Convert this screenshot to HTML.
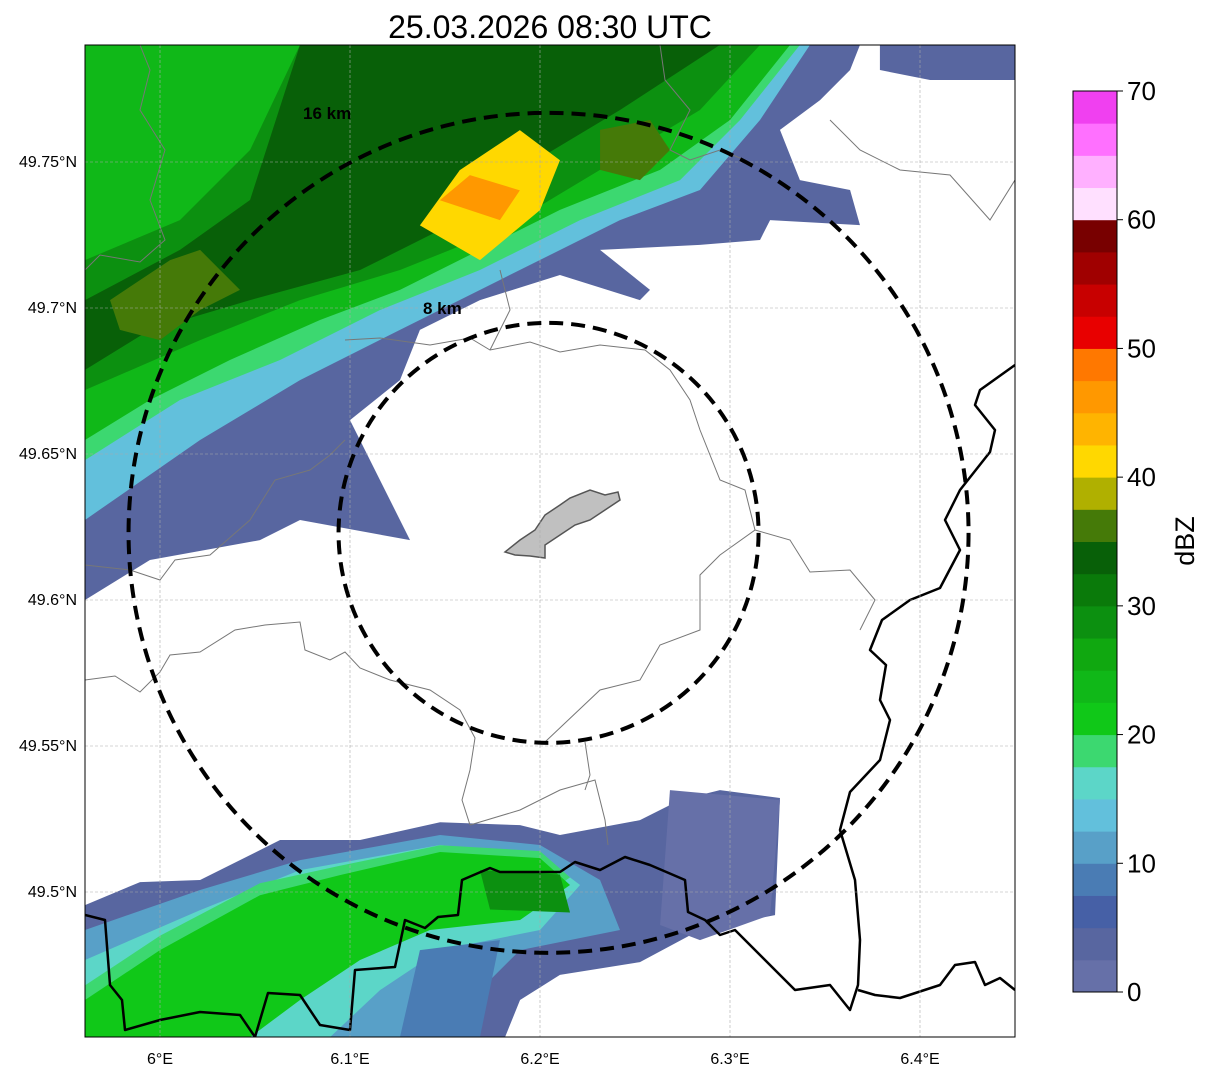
<!DOCTYPE html>
<html><head><meta charset="utf-8"><style>
body{margin:0;background:#fff;font-family:"Liberation Sans",sans-serif}
svg{display:block}
</style></head><body>
<svg id="s" width="1207" height="1073" xmlns="http://www.w3.org/2000/svg">
<defs><clipPath id="mapclip"><rect x="85" y="45" width="930" height="992"/></clipPath></defs>
<text x="550" y="38" font-size="32" text-anchor="middle">25.03.2026 08:30 UTC</text>
<g id="map" clip-path="url(#mapclip)"></g>
<g id="overlay" clip-path="url(#mapclip)">
<g fill="none" stroke="#777" stroke-width="1">
<path d="M85,680 L115,676 L140,692 L160,672 L170,655 L200,652 L235,630 L265,625 L300,622 L305,650 L330,660 L345,652 L360,668 L390,680 L430,690 L460,710 L475,738 L470,770 L462,800 L470,825"/>
<path d="M470,825 L520,810 L560,790 L595,780 L605,820 L608,845"/>
<path d="M585,742 L590,775 L585,790"/>
<path d="M545,742 L600,690 L640,680 L660,645 L700,630 L700,575 L720,555 L755,530 L745,490 L720,480 L700,430 L690,400 L670,370 L645,350 L600,345 L560,352 L530,342 L490,350 L470,338 L430,345 L380,338 L345,340"/>
<path d="M755,530 L790,540 L810,572 L850,570 L875,600 L860,630"/>
<path d="M85,565 L130,570 L160,580 L175,560 L210,555 L250,520 L275,480 L310,470 L330,455 L345,440"/>
<path d="M660,45 L665,80 L690,110 L670,150 L690,160 L720,150 L745,160"/>
<path d="M830,120 L860,150 L900,170 L950,175 L990,220 L1015,180"/>
<path d="M140,45 L150,70 L140,110 L165,150 L150,200 L165,240 L140,262 L100,255 L85,270"/>
<path d="M500,270 L510,310 L490,350"/>
</g>
<g fill="none" stroke="#000" stroke-width="2.5" stroke-linejoin="round">
<path d="M1015,365 L980,390 L975,405 L995,430 L990,452 L960,490 L945,520 L960,550 L940,588 L910,600 L882,620 L870,650 L886,665 L880,700 L890,720 L880,760 L850,792 L840,830 L855,880 L860,940 L858,985 L850,1010 L830,985 L795,990 L765,960 L735,930 L720,935 L705,920 L688,912 L685,880 L650,865 L625,857 L600,870 L575,862 L560,872 L500,872 L490,868 L462,880 L458,915 L438,917 L425,928 L405,920 L395,967 L355,970 L350,1030 L320,1025 L300,995 L268,993 L255,1037"/>
<path d="M858,990 L875,995 L900,998 L940,985 L955,965 L975,962 L985,985 L1000,978 L1015,990"/>
<path d="M85,915 L105,920 L110,985 L122,1000 L125,1030 L160,1020 L200,1012 L240,1015 L255,1037"/>
</g>
<path d="M505,552 L520,540 L535,530 L545,515 L560,505 L570,498 L590,490 L605,495 L618,492 L620,500 L605,510 L590,520 L575,525 L560,535 L545,545 L545,558 L530,556 L515,555 Z" fill="#c0c0c0" stroke="#555" stroke-width="1.5"/>
</g>
<g id="grid"></g>
<g id="rings" fill="none" stroke="#000" stroke-width="4" stroke-dasharray="14,8"></g>
<text x="303" y="119" font-size="17" font-weight="bold">16 km</text>
<text x="423" y="314" font-size="17" font-weight="bold">8 km</text>
<rect x="85" y="45" width="930" height="992" fill="none" stroke="#000" stroke-width="1"/>
<g id="ticks"></g>
<g id="cbar"></g>
<text transform="translate(1194,541) rotate(-90)" font-size="27" text-anchor="middle">dBZ</text>
</svg>
<script>
const lonTicks=[6.0,6.1,6.2,6.3,6.4];
const lonLabels=["6°E","6.1°E","6.2°E","6.3°E","6.4°E"];
const latTicks=[49.75,49.7,49.65,49.6,49.55,49.5];
const latLabels=["49.75°N","49.7°N","49.65°N","49.6°N","49.55°N","49.5°N"];
const cbTicks=[0,10,20,30,40,50,60,70];
const cbColors=["#6670a8","#5866a0","#4660a6","#4a7cb4","#58a0c8","#62c0dc","#5cd6c8","#3cd870","#10c818","#10b818","#10a810","#0c9010","#0a7a0a","#086008","#457a08","#b0b000","#ffd800","#ffb400","#ff9800","#ff7800","#e80000","#c80000","#a00000","#780000","#ffe0ff","#ffb0ff","#ff70ff","#f040f0"];
const ringRadiiKm=[8,16];
const center=[6.2045,49.623];
// precipitation areas (drawn in order): dBZ + polygon lon/lat
const rainDbz=[3,3,12.5,17.5,22.5,27.5,32.5,22.5,35,35,40,45,
  3,1,10,15,7.5,17.5,20,27.5];
const rainLon=[
[5.9605,6.3684,6.3632,6.3474,6.3263,6.3368,6.3632,6.3684,6.3211,6.3158,6.2842,6.2316,6.2579,6.2526,6.2105,6.1684,6.1368,6.1263,6.1,6.1316,6.0737,6.0526,5.9947,5.9605],
[6.3789,6.45,6.45,6.4053,6.3789],
[5.9605,6.3421,6.3158,6.2842,6.2421,6.1789,6.1263,6.0737,6.0211,5.9605],
[5.9605,6.3368,6.3053,6.2737,6.2211,6.1684,6.1158,6.0632,6.0105,5.9605],
[5.9605,6.3316,6.3,6.2632,6.2105,6.1684,6.1263,6.0842,6.0368,5.9947,5.9605],
[5.9605,6.3158,6.2842,6.2316,6.1789,6.1263,6.0737,6.0211,5.9605],
[6.0737,6.2947,6.2421,6.1895,6.1474,6.1053,6.0474,5.9947,5.9605,5.9605,6.0105,6.0474],
[5.9605,6.0737,6.0474,6.0105,5.9605],
[5.9737,6.0053,6.0211,6.0421,6.0211,6.0,5.9789],
[6.2316,6.2579,6.2684,6.2526,6.2316],
[6.1368,6.1578,6.1894,6.2105,6.2,6.1684],
[6.1473,6.1631,6.1894,6.1789],
[5.9605,5.9895,6.0211,6.0632,6.1053,6.1474,6.1895,6.2105,6.2526,6.2737,6.2947,6.3263,6.3237,6.2842,6.2526,6.2105,6.1895,6.1816,5.9605],
[6.2684,6.3263,6.3211,6.2842,6.2632],
[5.9605,6.0211,6.0737,6.1474,6.2,6.2316,6.2421,6.1895,6.1632,6.1474,5.9605],
[5.9605,6.0211,6.0737,6.1474,6.2,6.2211,6.2,6.1474,6.1158,6.0895,5.9605],
[6.1368,6.1789,6.1684,6.1263],
[5.9605,6.0,6.0526,6.0947,6.1474,6.2,6.2158,6.1895,6.1421,6.1053,6.0737,6.0474,5.9605],
[5.9605,6.0,6.0526,6.0947,6.1474,6.2,6.2158,6.1895,6.1421,6.1053,6.0737,6.0474,5.9605],
[6.1684,6.2105,6.2158,6.1737]];
const rainLat=[
[49.7901,49.7901,49.7815,49.7712,49.7610,49.7438,49.7404,49.7284,49.7301,49.7233,49.7216,49.7199,49.7062,49.7027,49.7113,49.7027,49.6925,49.6753,49.6616,49.6205,49.6274,49.6205,49.6137,49.6000],
[49.7901,49.7901,49.7781,49.7781,49.7815],
[49.7901,49.7901,49.7644,49.7404,49.7301,49.7096,49.6925,49.6753,49.6548,49.6274],
[49.7901,49.7901,49.7644,49.7438,49.7301,49.7130,49.6993,49.6822,49.6685,49.6479],
[49.7901,49.7901,49.7644,49.7473,49.7336,49.7199,49.7062,49.6959,49.6822,49.6685,49.6548],
[49.7901,49.7901,49.7678,49.7473,49.7267,49.7130,49.7027,49.6890,49.6719],
[49.7901,49.7901,49.7678,49.7473,49.7267,49.7130,49.7027,49.6925,49.6788,49.7027,49.7199,49.7370],
[49.7901,49.7901,49.7541,49.7301,49.7164],
[49.7027,49.7164,49.7199,49.7062,49.6993,49.6890,49.6925],
[49.7610,49.7644,49.7541,49.7438,49.7473],
[49.7283,49.7472,49.7609,49.7506,49.7335,49.7164],
[49.7369,49.7455,49.7403,49.7301],
[49.4955,49.5034,49.5041,49.5178,49.5178,49.5239,49.5229,49.5195,49.5246,49.5315,49.5349,49.5322,49.4921,49.4870,49.4760,49.4716,49.4630,49.4503,49.4503],
[49.5349,49.5315,49.4921,49.4835,49.4887],
[49.4870,49.5007,49.5109,49.5195,49.5161,49.5041,49.4870,49.4801,49.4630,49.4503,49.4503],
[49.4767,49.4938,49.5075,49.5161,49.5127,49.5024,49.4870,49.4801,49.4664,49.4503,49.4503],
[49.4801,49.4835,49.4503,49.4503],
[49.4680,49.4850,49.5030,49.5090,49.5160,49.5140,49.5050,49.4930,49.4880,49.4790,49.4650,49.4503,49.4503],
[49.4630,49.4801,49.4989,49.5058,49.5137,49.5116,49.5024,49.4904,49.4870,49.4767,49.4630,49.4503,49.4503],
[49.5075,49.5060,49.4930,49.4940]];
const NS="http://www.w3.org/2000/svg";
const xOf=lon=>160+(lon-6)*1900;
const yOf=lat=>162+(49.75-lat)*2920;
const cbY=v=>992-v*(901/70);
function colorOf(d){return cbColors[Math.max(0,Math.min(27,Math.floor(d/2.5)))];}
function mk(tag,parent){const e=document.createElementNS(NS,tag);parent.appendChild(e);return e;}
const map=document.getElementById('map');
rainDbz.forEach((d,i)=>{
 const p=mk('polygon',map);
 p.setAttribute('points',rainLon[i].map((lo,j)=>xOf(lo)+','+yOf(rainLat[i][j])).join(' '));
 p.setAttribute('fill',colorOf(d));
 
 
});
const grid=document.getElementById('grid'),ticks=document.getElementById('ticks');
lonTicks.forEach((lo,i)=>{
 const l=mk('line',grid);l.setAttribute('x1',xOf(lo));l.setAttribute('x2',xOf(lo));l.setAttribute('y1',45);l.setAttribute('y2',1037);
 l.setAttribute('stroke','#aaa');l.setAttribute('stroke-width','0.6');l.setAttribute('stroke-dasharray','3,2');
 
 
 const t=mk('text',ticks);t.setAttribute('x',xOf(lo));t.setAttribute('y',1064);t.setAttribute('font-size','16');t.setAttribute('text-anchor','middle');t.textContent=lonLabels[i];
 
 
});
latTicks.forEach((la,i)=>{
 const l=mk('line',grid);l.setAttribute('y1',yOf(la));l.setAttribute('y2',yOf(la));l.setAttribute('x1',85);l.setAttribute('x2',1015);
 l.setAttribute('stroke','#aaa');l.setAttribute('stroke-width','0.6');l.setAttribute('stroke-dasharray','3,2');
 
 
 const t=mk('text',ticks);t.setAttribute('x',77);t.setAttribute('y',yOf(la)+5);t.setAttribute('font-size','16');t.setAttribute('text-anchor','end');t.textContent=latLabels[i];
 
 
});
const rings=document.getElementById('rings');
ringRadiiKm.forEach(r=>{
 const c=mk('circle',rings);c.setAttribute('cx',xOf(center[0]));c.setAttribute('cy',yOf(center[1]));c.setAttribute('r',r*26.25);
 
 
});
const cb=document.getElementById('cbar');
cbColors.forEach((c,i)=>{
 const r=mk('rect',cb);const y1=cbY((i+1)*2.5),y0=cbY(i*2.5);
 r.setAttribute('x',1073);r.setAttribute('y',y1);r.setAttribute('width',44);r.setAttribute('height',y0-y1+0.5);r.setAttribute('fill',c);
 
 
});
const fr=mk('rect',cb);fr.setAttribute('x',1073);fr.setAttribute('y',cbY(70));fr.setAttribute('width',44);fr.setAttribute('height',cbY(0)-cbY(70));fr.setAttribute('fill','none');fr.setAttribute('stroke','#000');


cbTicks.forEach(v=>{
 const l=mk('line',cb);l.setAttribute('x1',1117);l.setAttribute('x2',1123);l.setAttribute('y1',cbY(v));l.setAttribute('y2',cbY(v));l.setAttribute('stroke','#000');
 
 
 const t=mk('text',cb);t.setAttribute('x',1127);t.setAttribute('y',cbY(v)+9);t.setAttribute('font-size','26');t.textContent=v;
 
 
});
</script>
</body></html>
